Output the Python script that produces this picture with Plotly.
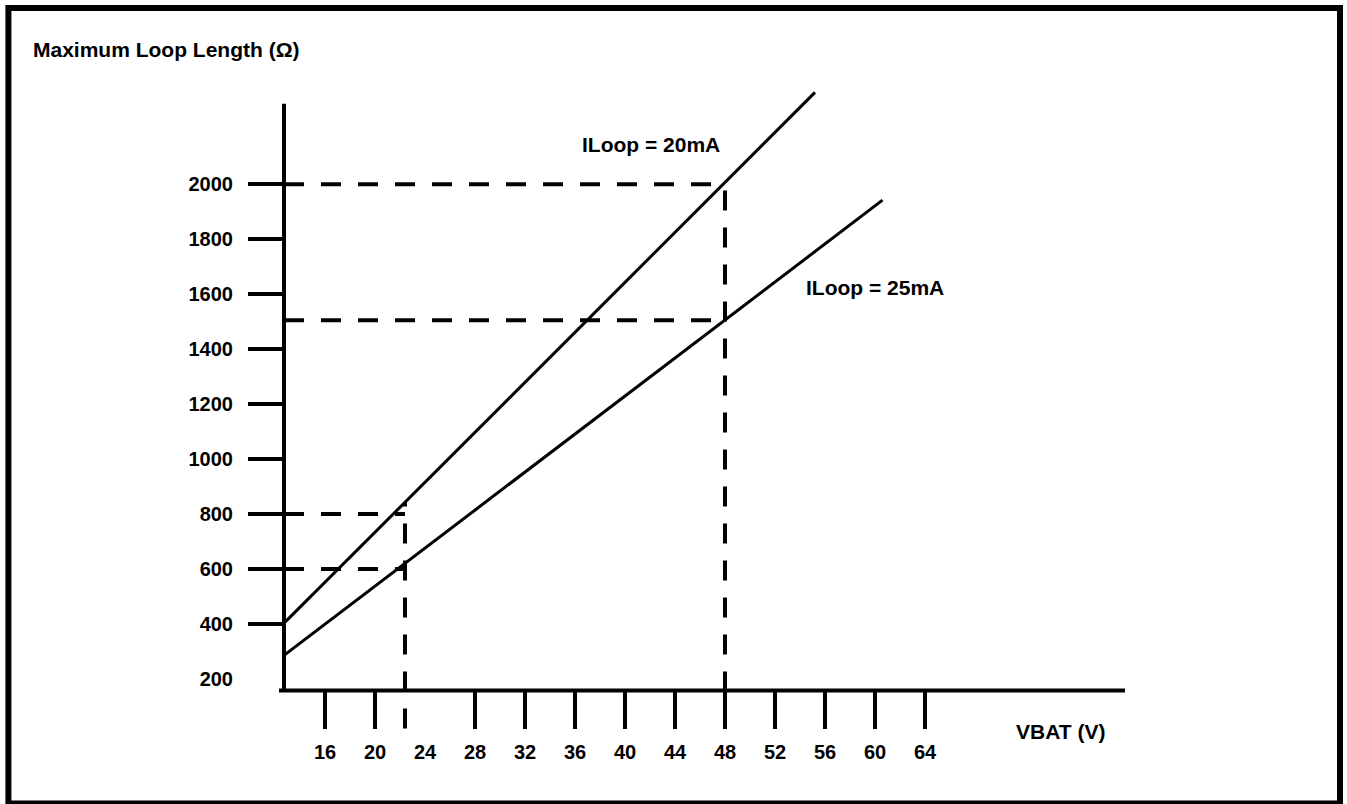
import numpy as np
import plotly.graph_objects as go

# ---------------- data ----------------
vbat_tick_marks = [16, 20, 28, 32, 36, 40, 44, 48, 52, 56, 60, 64]
vbat_tick_labels = [16, 20, 24, 28, 32, 36, 40, 44, 48, 52, 56, 60, 64]
loop_tick_marks = [400, 600, 800, 1000, 1200, 1400, 1600, 1800, 2000]
loop_tick_labels = [200, 400, 600, 800, 1000, 1200, 1400, 1600, 1800, 2000]

vbat_20mA = [12.72, 55.2]
loop_20mA = [403, 2334]
vbat_25mA = [12.72, 60.6]
loop_25mA = [286, 1942]

guide_vbat = [22.4, 48]          # dashed vertical guides
guide_loop_20mA = [800, 2000]    # dashed horizontals to the 20 mA line
guide_loop_25mA = [600, 1505]    # dashed horizontals to the 25 mA line

series_names = ["ILoop = 20mA", "ILoop = 25mA"]
x_title = "VBAT (V)"
y_title = "Maximum Loop Length (Ω)"

# ---------------- frame / layout constants ----------------
W, H = 1347, 804
ML, MR, MT, MB = 284, 222, 88, 70
PW, PH = W - ML - MR, H - MT - MB
X_MIN, X_MAX = 12.72, 80.0
Y_MIN, Y_MAX = 0, 2350
ORIGIN_LOOP = 158      # where the VBAT axis crosses
Y_AXIS_TOP = 2293
GUIDE_BOTTOM = 20

FONT = dict(family="Liberation Sans, Arial, sans-serif", size=20, color="black", weight="bold")
FONT_ANN = dict(FONT, size=21)


def px(xp):
    return (xp - ML) / PW


def py(yp):
    return (H - MB - yp) / PH


fig = go.Figure()

# solid characteristic lines
for xs, ys, name in [(vbat_20mA, loop_20mA, series_names[0]), (vbat_25mA, loop_25mA, series_names[1])]:
    fig.add_trace(go.Scatter(x=xs, y=ys, mode="lines", name=name,
                             line=dict(color="black", width=3), showlegend=False, hoverinfo="skip"))

DASH = dict(color="black", width=4, dash="20px,17px")
# dashed guides
for gx, l20, l25 in zip(guide_vbat, guide_loop_20mA, guide_loop_25mA):
    for lv in (l20, l25):
        fig.add_trace(go.Scatter(x=[X_MIN, gx], y=[lv, lv], mode="lines", line=DASH,
                                 showlegend=False, hoverinfo="skip"))
    top = float(np.interp(gx, vbat_20mA, loop_20mA))
    fig.add_trace(go.Scatter(x=[gx, gx], y=[GUIDE_BOTTOM, top], mode="lines", line=DASH,
                             showlegend=False, hoverinfo="skip"))

# invisible trace carrying the label axes
fig.add_trace(go.Scatter(x=[X_MIN], y=[Y_MIN], xaxis="x2", yaxis="y2", mode="markers",
                         marker=dict(opacity=0), showlegend=False, hoverinfo="skip"))

xpos = (ORIGIN_LOOP - Y_MIN) / (Y_MAX - Y_MIN)
common = dict(showgrid=False, zeroline=False, showline=False, fixedrange=True)

fig.update_layout(
    width=W, height=H,
    margin=dict(l=ML, r=MR, t=MT, b=MB, pad=0),
    paper_bgcolor="white", plot_bgcolor="white",
    font=FONT,
    xaxis=dict(range=[X_MIN, X_MAX], anchor="free", position=xpos,
               tickmode="array", tickvals=vbat_tick_marks, ticks="outside",
               ticklen=37, tickwidth=4, tickcolor="black", showticklabels=False, **common),
    xaxis2=dict(range=[X_MIN, X_MAX], overlaying="x", anchor="free", position=xpos,
                tickmode="array", tickvals=vbat_tick_labels, ticktext=[str(v) for v in vbat_tick_labels],
                ticks="outside", ticklen=43, tickcolor="rgba(0,0,0,0)", tickfont=FONT, **common),
    yaxis=dict(range=[Y_MIN, Y_MAX], anchor="x",
               tickmode="array", tickvals=loop_tick_marks, ticks="outside",
               ticklen=35, tickwidth=4, tickcolor="black", showticklabels=False, **common),
    yaxis2=dict(range=[Y_MIN, Y_MAX], overlaying="y", anchor="x", side="left",
                tickmode="array", tickvals=loop_tick_labels, ticktext=[str(v) for v in loop_tick_labels],
                ticks="outside", ticklen=46, tickcolor="rgba(0,0,0,0)", tickfont=FONT, **common),
    shapes=[
        # axis lines
        dict(type="line", xref="paper", yref="y", x0=0, x1=0, y0=ORIGIN_LOOP, y1=Y_AXIS_TOP,
             line=dict(color="black", width=4)),
        dict(type="line", xref="paper", yref="y", x0=px(279), x1=1, y0=ORIGIN_LOOP, y1=ORIGIN_LOOP,
             line=dict(color="black", width=4)),
        # outer frame
        dict(type="rect", xref="paper", yref="paper", x0=px(8.4), x1=px(1340), y0=py(803.5), y1=py(8),
             line=dict(color="black", width=6), fillcolor="rgba(0,0,0,0)"),
    ],
    annotations=[
        dict(text=y_title, xref="paper", yref="paper", x=px(31), y=py(50),
             xanchor="left", yanchor="middle", showarrow=False, font=FONT_ANN),
        dict(text=series_names[0], xref="paper", yref="paper", x=px(651), y=py(144.5),
             xanchor="center", yanchor="middle", showarrow=False, font=FONT_ANN),
        dict(text=series_names[1], xref="paper", yref="paper", x=px(875), y=py(287),
             xanchor="center", yanchor="middle", showarrow=False, font=FONT_ANN),
        dict(text=x_title, xref="paper", yref="paper", x=px(1060), y=py(731),
             xanchor="center", yanchor="middle", showarrow=False, font=FONT_ANN),
    ],
)

fig.write_html("out.html", config={"displayModeBar": False},
               post_script="document.body.style.margin='0';document.body.style.overflow='hidden';")
